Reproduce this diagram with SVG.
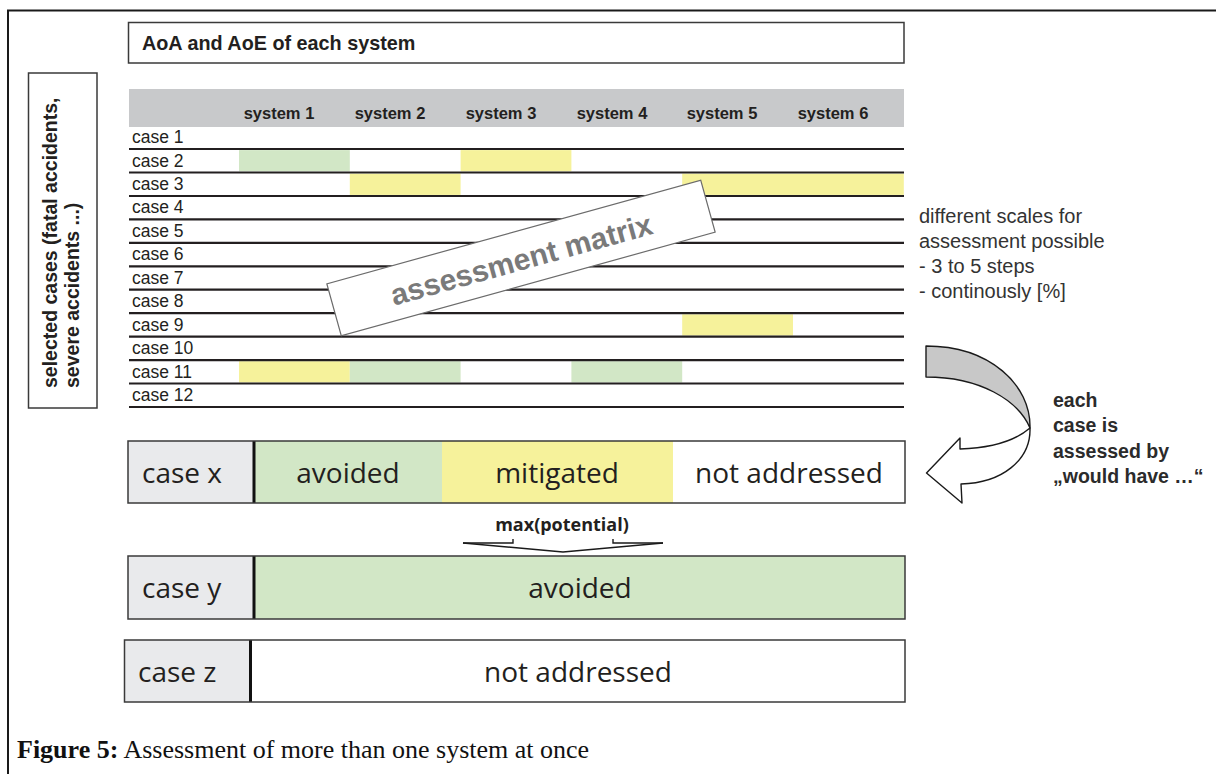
<svg xmlns="http://www.w3.org/2000/svg" width="1216" height="774" viewBox="0 0 1216 774">
  <style>
    .sans{font-family:"Liberation Sans",Arial,sans-serif}
    .hum{font-family:"Open Sans","Noto Sans",sans-serif}
    .serif{font-family:"Liberation Serif","Times New Roman",serif}
    .bold{font-weight:bold}
    .mid{text-anchor:middle}
    .case{font-size:17.5px;fill:#231f20}
    .sys{font-size:16.5px;font-weight:bold;fill:#231f20;text-anchor:middle}
    .rule{stroke:#231f20;stroke-width:2.2}
    .g{fill:#d2e7c6}
    .y{fill:#f6f29b}
    .lg{fill:#e9eaec}
    .box{fill:none;stroke:#3a3a3a;stroke-width:1.5}
    .big{font-size:28px;fill:#231f20}
    .note{font-size:20px;fill:#333}
    .conn{fill:none;stroke:#1a1a1a;stroke-width:1.4}
  </style>

  <rect width="1216" height="774" fill="#fff"/>

  <!-- figure frame (left and top edge) -->
  <path d="M8,774 V10.5 H1216" fill="none" stroke="#1a1a1a" stroke-width="2"/>

  <!-- title bar -->
  <g id="title">
    <rect x="128.5" y="22.5" width="775.5" height="40.5" fill="#fff" stroke="#3a3a3a" stroke-width="1.5"/>
    <text x="142" y="50" class="sans bold" font-size="19.8" fill="#231f20">AoA and AoE of each system</text>
  </g>

  <!-- vertical label for the selected cases -->
  <g id="cases-label">
    <rect x="28.5" y="73" width="68.5" height="335" fill="#fff" stroke="#3a3a3a" stroke-width="1.5"/>
    <text transform="translate(57,388) rotate(-90)" class="sans bold" font-size="19.5" fill="#231f20">
      <tspan x="0" y="0">selected cases (fatal accidents,</tspan>
      <tspan x="0" y="22">severe accidents ...)</tspan>
    </text>
  </g>

  <!-- assessment matrix: systems x cases -->
  <g id="matrix">
    <rect x="129" y="89" width="775" height="38" fill="#c8c9cb"/>
    <g class="sans">
      <text x="279" y="119" class="sys">system 1</text>
      <text x="390" y="119" class="sys">system 2</text>
      <text x="501" y="119" class="sys">system 3</text>
      <text x="612" y="119" class="sys">system 4</text>
      <text x="722" y="119" class="sys">system 5</text>
      <text x="833" y="119" class="sys">system 6</text>
    </g>

    <!-- rated cells -->
    <rect class="g" x="239" y="150.1" width="110.8" height="21.3"/>
    <rect class="y" x="460.6" y="150.1" width="110.8" height="21.3"/>
    <rect class="y" x="349.8" y="173.6" width="110.8" height="21.3"/>
    <rect class="y" x="682.2" y="173.6" width="221.6" height="21.3"/>
    <rect class="y" x="682.2" y="314.3" width="110.8" height="21.3"/>
    <rect class="y" x="239" y="361.2" width="110.8" height="21.3"/>
    <rect class="g" x="349.8" y="361.2" width="110.8" height="21.3"/>
    <rect class="g" x="571.4" y="361.2" width="110.8" height="21.3"/>

    <!-- row rules -->
    <g class="rule">
      <line x1="129" y1="149" x2="904" y2="149"/>
      <line x1="129" y1="172.5" x2="904" y2="172.5"/>
      <line x1="129" y1="196" x2="904" y2="196"/>
      <line x1="129" y1="219.4" x2="904" y2="219.4"/>
      <line x1="129" y1="242.8" x2="904" y2="242.8"/>
      <line x1="129" y1="266.3" x2="904" y2="266.3"/>
      <line x1="129" y1="289.7" x2="904" y2="289.7"/>
      <line x1="129" y1="313.2" x2="904" y2="313.2"/>
      <line x1="129" y1="336.6" x2="904" y2="336.6"/>
      <line x1="129" y1="360.1" x2="904" y2="360.1"/>
      <line x1="129" y1="383.5" x2="904" y2="383.5"/>
      <line x1="129" y1="407" x2="904" y2="407"/>
    </g>

    <!-- row labels -->
    <g class="sans case">
      <text x="132" y="143">case 1</text>
      <text x="132" y="166.5">case 2</text>
      <text x="132" y="190">case 3</text>
      <text x="132" y="213.4">case 4</text>
      <text x="132" y="236.8">case 5</text>
      <text x="132" y="260.3">case 6</text>
      <text x="132" y="283.7">case 7</text>
      <text x="132" y="307.2">case 8</text>
      <text x="132" y="330.6">case 9</text>
      <text x="132" y="354.1">case 10</text>
      <text x="132" y="377.5">case 11</text>
      <text x="132" y="401">case 12</text>
    </g>
  </g>

  <!-- tilted tag over the matrix -->
  <g id="assessment-matrix" transform="translate(521,258) rotate(-15.5)">
    <rect x="-194" y="-27" width="388" height="54" fill="#fff" stroke="#6b6b6b" stroke-width="1.2"/>
    <text x="0" y="12" class="sans bold mid" font-size="30" fill="#7a7a7a">assessment matrix</text>
  </g>

  <!-- scale note -->
  <g id="scales-note" class="sans note">
    <text x="919" y="223">different scales for</text>
    <text x="919" y="248">assessment possible</text>
    <text x="919" y="273">- 3 to 5 steps</text>
    <text x="919" y="298">- continously [%]</text>
  </g>

  <!-- assessment note -->
  <g id="assess-note" class="sans bold" font-size="19.5" fill="#2b2b2b">
    <text x="1053" y="407">each</text>
    <text x="1053" y="432">case is</text>
    <text x="1053" y="457.5">assessed by</text>
    <text x="1053" y="483">„would have …“</text>
  </g>

  <!-- case x: one result per system -->
  <g id="case-x" class="hum">
    <rect class="lg" x="128" y="441" width="125" height="62"/>
    <rect class="g" x="255" y="441" width="187" height="62"/>
    <rect class="y" x="442" y="441" width="231" height="62"/>
    <rect x="673" y="441" width="232" height="62" fill="#fff"/>
    <rect x="252.5" y="441" width="3" height="62" fill="#111"/>
    <rect class="box" x="128" y="441" width="777" height="62"/>
    <text x="142" y="483" class="big">case x</text>
    <text x="348" y="483" class="big mid">avoided</text>
    <text x="557" y="483" class="big mid">mitigated</text>
    <text x="789" y="483" class="big mid">not addressed</text>
  </g>

  <!-- case y: combined result -->
  <g id="case-y" class="hum">
    <rect class="lg" x="128" y="556" width="125" height="63"/>
    <rect class="g" x="255" y="556" width="650" height="63"/>
    <rect x="252.5" y="556" width="3" height="63" fill="#111"/>
    <rect class="box" x="128" y="556" width="777" height="63"/>
    <text x="142" y="598" class="big">case y</text>
    <text x="580" y="598" class="big mid">avoided</text>
  </g>

  <!-- case z -->
  <g id="case-z" class="hum">
    <rect class="lg" x="124.5" y="640" width="125" height="62"/>
    <rect x="251" y="640" width="654" height="62" fill="#fff"/>
    <rect x="249" y="640" width="3" height="62" fill="#111"/>
    <rect class="box" x="124.5" y="640" width="780.5" height="62"/>
    <text x="138" y="682" class="big">case z</text>
    <text x="578" y="682" class="big mid">not addressed</text>
  </g>

  <!-- max(potential) label -->
  <g id="max-label">
    <text x="562" y="531" class="hum bold mid" font-size="18" fill="#231f20">max(potential)</text>
  </g>

  <!-- connectors -->
  <g id="connectors">
    <!-- twisted ribbon arrow from the matrix down to case x -->
    <path d="M926,346 C990,346 1031,385 1030,428 C1018,400 980,377 926,377 Z" fill="#c8c8c8" stroke="#1a1a1a" stroke-width="1.4" stroke-linejoin="round"/>
    <path d="M1030,428 C1031,460 1002,483 961,484 L962,503 L926.5,473 L960,438 L960,449 C992,448 1016,440 1030,428 Z" fill="#fff" stroke="#1a1a1a" stroke-width="1.4" stroke-linejoin="round"/>
    <!-- max(potential) reduction arrow -->
    <path class="conn" d="M463,543 H513 V539"/>
    <path class="conn" d="M613,539 V543 H663"/>
    <path class="conn" d="M463,543 L563,552 L663,543"/>
  </g>

  <!-- caption -->
  <text x="17" y="758" class="serif" font-size="26" fill="#111"><tspan font-weight="bold">Figure 5:</tspan> Assessment of more than one system at once</text>
</svg>
